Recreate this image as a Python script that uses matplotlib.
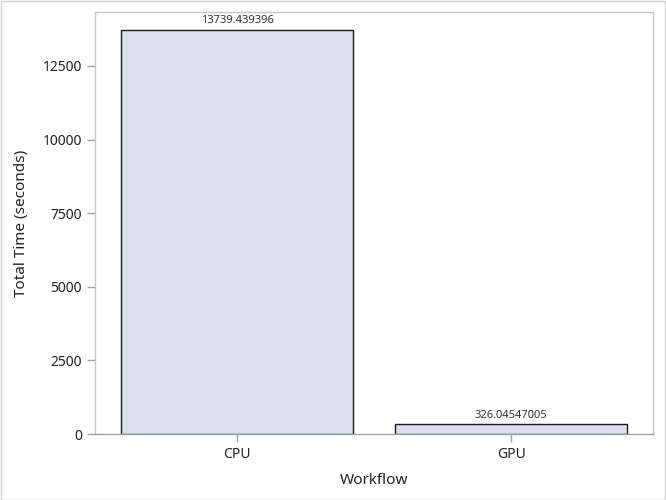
import matplotlib
matplotlib.use("Agg")
import matplotlib.pyplot as plt
from matplotlib.patches import Rectangle

categories = ["CPU", "GPU"]
values = [13739.439396, 326.04547005]
labels = ["13739.439396", "326.04547005"]
yticks = [0, 2500, 5000, 7500, 10000, 12500]

plt.rcParams['font.family'] = ['Noto Sans', 'DejaVu Sans']

fig = plt.figure(figsize=(6.66, 5.0), dpi=100)
W, H = 666, 500
ax = fig.add_axes([95 / W, 1 - 434 / H, (653 - 95) / W, (434 - 12) / H])

x = list(range(len(categories)))
ax.bar(x, values, width=0.847, color="#DAE0EC", edgecolor="#1a1a1a", linewidth=1.0, zorder=2)
for xi, v, lab in zip(x, values, labels):
    ax.annotate(lab, (xi, v), xytext=(0, 2.5), textcoords="offset points",
                ha="center", va="bottom", fontsize=8, color="#333333")

ax.set_xlim(-0.518, 1.518)
ax.set_ylim(0, 14334)
ax.set_xticks(x)
ax.set_xticklabels(categories)
ax.set_yticks(yticks)
ax.set_yticklabels([str(t) for t in yticks])

for s in ax.spines.values():
    s.set_color("#C8C8C8")
    s.set_linewidth(1.0)
ax.spines["bottom"].set_color("#A0A0A0")
ax.tick_params(axis="both", colors="#A0A0A0", labelcolor="#222222", labelsize=10, length=6, width=1)

ax.set_xlabel("Workflow", fontsize=11, color="#222222", labelpad=8)
ax.set_ylabel("Total Time (seconds)", fontsize=11, color="#222222", labelpad=10)

fig.patches.append(Rectangle((0.5 / W, 0.5 / H), 1 - 1.5 / W, 1 - 1.5 / H, transform=fig.transFigure,
                             fill=False, edgecolor="#D0D0D0", linewidth=1.0))

fig.savefig("out.png", dpi=100)
